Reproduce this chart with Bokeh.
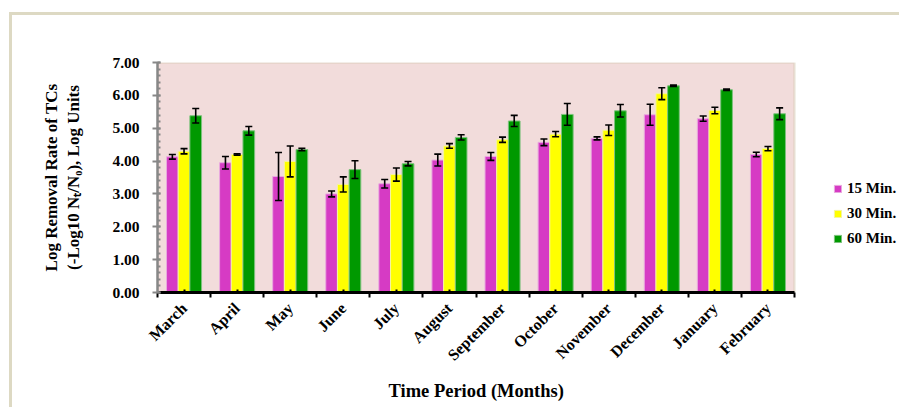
import math
from bokeh.plotting import figure
from bokeh.models import (Range1d, FixedTicker, SingleIntervalTicker, PrintfTickFormatter,
                          Whisker, TeeHead, Legend, LegendItem, ColumnDataSource, BoxAnnotation,
                          Title)
from bokeh.embed import file_html
from bokeh.resources import INLINE

months = ["March", "April", "May", "June", "July", "August", "September",
          "October", "November", "December", "January", "February"]
series_names = ["15 Min.", "30 Min.", "60 Min."]
v15 = [4.13, 3.95, 3.53, 3.00, 3.31, 4.03, 4.14, 4.57, 4.69, 5.41, 5.29, 4.20]
e15 = [0.07, 0.19, 0.73, 0.09, 0.13, 0.18, 0.12, 0.10, 0.045, 0.32, 0.08, 0.07]
v30 = [4.30, 4.20, 3.99, 3.29, 3.59, 4.46, 4.65, 4.82, 4.94, 6.05, 5.54, 4.38]
e30 = [0.08, 0.02, 0.47, 0.23, 0.20, 0.07, 0.08, 0.08, 0.16, 0.18, 0.10, 0.065]
v60 = [5.38, 4.92, 4.35, 3.74, 3.92, 4.72, 5.22, 5.42, 5.53, 6.29, 6.17, 5.44]
e60 = [0.22, 0.13, 0.035, 0.27, 0.066, 0.08, 0.17, 0.33, 0.19, 0.02, 0.02, 0.18]
colors = ["#D63BC4", "#FFFF00", "#009900"]
edge_colors = ["#E9A9DF", "#F4F4A0", "#7DC27D"]
y_title = "Log Removal Rate of TCs\n(-Log10 N\u209c/N\u2080), Log Units"
x_title = "Time Period (Months)"

FONT = "Liberation Serif"
BAR_W = 0.22
FRAME_COL = "#DDD9C3"
Y_MAX = 7

# layout (pixels)
W, H = 899, 407
LEFT, TOP, BOTTOM = 157, 62, 115
AXIS_RIGHT = 794  # right edge of the shaded plot area
x_lo = -0.5
x_hi = len(months) - 0.5
x_end = x_lo + (x_hi - x_lo) * (W - LEFT) / (AXIS_RIGHT - LEFT)

p = figure(width=W, height=H, output_backend="svg", toolbar_location=None,
           x_range=Range1d(x_lo, x_end), y_range=Range1d(0, Y_MAX),
           min_border_left=LEFT, min_border_right=0, min_border_top=TOP, min_border_bottom=BOTTOM)
p.background_fill_alpha = 0
p.border_fill_alpha = 0
p.styles = {
    "background": (f"linear-gradient({FRAME_COL},{FRAME_COL}) 9px 12px / 3px 100% no-repeat, "
                   f"linear-gradient({FRAME_COL},{FRAME_COL}) 9px 12px / 100% 3px no-repeat, white")
}
p.outline_line_color = None
p.xgrid.grid_line_color = None
p.ygrid.grid_line_color = None

# shaded plot area with khaki border
p.add_layout(BoxAnnotation(left=x_lo, right=x_hi, bottom=0, top=Y_MAX,
                           fill_color="#F2DCDB", fill_alpha=1,
                           line_color="#C4BD97", line_width=2.5, level="underlay"))

renderers = []
for k, (vals, errs) in enumerate([(v15, e15), (v30, e30), (v60, e60)]):
    xs = [i + (k - 1) * BAR_W for i in range(len(months))]
    src = ColumnDataSource(dict(x=xs, top=vals,
                                upper=[v + e for v, e in zip(vals, errs)],
                                lower=[v - e for v, e in zip(vals, errs)]))
    r = p.vbar(x="x", top="top", width=BAR_W, source=src, fill_color=colors[k],
               line_color=edge_colors[k], line_width=1)
    renderers.append(r)
    w = Whisker(source=src, base="x", upper="upper", lower="lower", dimension="height",
                line_color="black", line_width=1.6, level="overlay",
                upper_head=TeeHead(size=7, line_color="black", line_width=1.6),
                lower_head=TeeHead(size=7, line_color="black", line_width=1.6))
    p.add_layout(w)

# y axis
ya = p.yaxis[0]
ya.ticker = SingleIntervalTicker(interval=1, num_minor_ticks=5)
ya.formatter = PrintfTickFormatter(format="%.2f")
ya.axis_line_color = "#878787"
ya.axis_line_width = 2.5
ya.major_tick_line_color = "#878787"
ya.major_tick_line_width = 2
ya.major_tick_in = 3
ya.major_tick_out = 5
ya.minor_tick_line_color = "#878787"
ya.minor_tick_line_width = 2
ya.minor_tick_in = 3
ya.minor_tick_out = 0
ya.major_label_standoff = 13
ya.major_label_text_font = FONT
ya.major_label_text_font_style = "bold"
ya.major_label_text_font_size = "15.5px"
ya.major_label_text_color = "black"
ya.axis_label = y_title
ya.axis_label_text_font = FONT
ya.axis_label_text_font_style = "bold"
ya.axis_label_text_font_size = "17px"
ya.axis_label_text_color = "black"
ya.axis_label_standoff = 26

# x axis
xa = p.xaxis[0]
xa.bounds = (x_lo, x_hi)
xa.ticker = FixedTicker(ticks=list(range(len(months))),
                        minor_ticks=[i - 0.5 for i in range(len(months) + 1)])
xa.major_label_overrides = {i: m for i, m in enumerate(months)}
xa.axis_line_color = "black"
xa.axis_line_width = 3
xa.major_tick_line_color = "black"
xa.major_tick_line_width = 2
xa.major_tick_in = 3
xa.major_tick_out = 0
xa.minor_tick_line_color = "black"
xa.minor_tick_line_width = 2
xa.minor_tick_in = 0
xa.minor_tick_out = 5
xa.major_label_orientation = math.pi / 4
xa.major_label_standoff = 8
xa.major_label_text_font = FONT
xa.major_label_text_font_style = "bold"
xa.major_label_text_font_size = "16px"
xa.major_label_text_color = "black"

# x title, centred under the shaded area
p.add_layout(Title(text=x_title, align="left", offset=231, standoff=13,
                   text_font=FONT, text_font_style="bold", text_font_size="18.5px",
                   text_color="black"), "below")

legend = Legend(items=[LegendItem(label=n, renderers=[r]) for n, r in zip(series_names, renderers)],
                location=(676, 44), orientation="vertical",
                label_text_font=FONT, label_text_font_style="bold", label_text_font_size="15px",
                label_text_color="black", glyph_width=9, glyph_height=9, label_height=20,
                label_standoff=5, spacing=5, padding=0, margin=0,
                background_fill_alpha=0, border_line_color=None)
p.add_layout(legend)

open("out.html", "w").write(file_html(p, INLINE))
